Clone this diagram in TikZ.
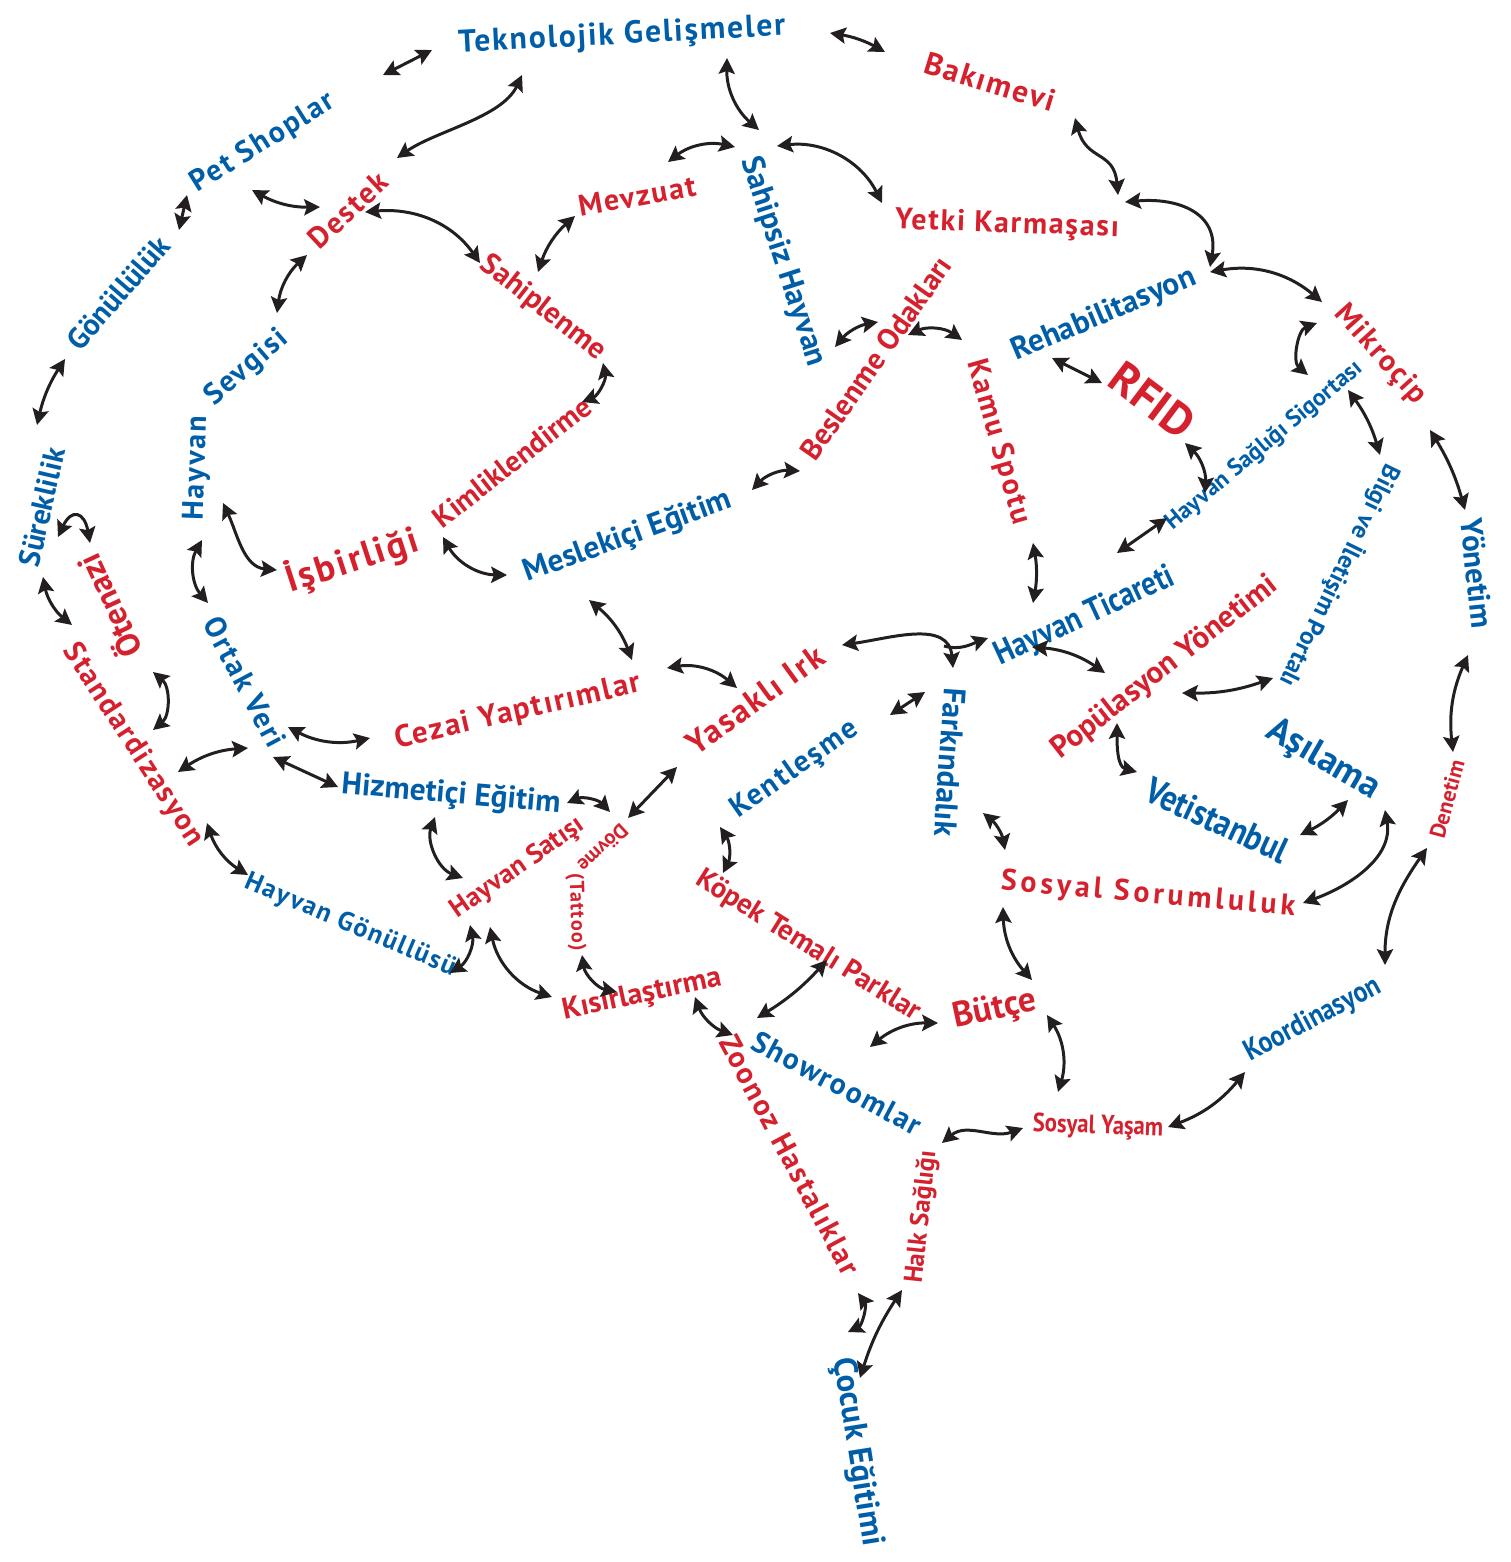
\documentclass[tikz,border=0pt]{standalone}
\usepackage{fontspec}
\setmainfont{PT Sans}
\newfontfamily\trackfont{PT Sans}[LetterSpace=6]
\newfontfamily\widefont{PT Sans}[LetterSpace=13]
\newfontfamily\condfont{PT Sans}[FakeStretch=0.86]
\usetikzlibrary{arrows.meta,calc}
\definecolor{tmblue}{HTML}{005EA8}
\definecolor{tmred}{HTML}{D5212D}
\definecolor{tmarrow}{HTML}{231F20}
\newcommand\sz[1]{\fontsize{#1}{#1}\selectfont}
\tikzstyle{word} = [inner sep=0pt, font=\bfseries\sz{8.5}]
\tikzstyle{blueword} = [word, text=tmblue]
\tikzstyle{redword} = [word, text=tmred]
\tikzstyle{link} = [draw=tmarrow, line width=0.85pt, <->]

\begin{document}
\begin{tikzpicture}[x=0.01cm, y=0.01cm, >={Stealth[length=4.5pt,width=4.6pt,inset=0.8pt]}]
    \useasboundingbox (0,0) rectangle (1511,-1562);
    % Place nodes
    \node [blueword, rotate=3] (tek) at (622,-36) {\trackfont\sz{9}Teknolojik Gelişmeler};
    \node [redword, rotate=-17] (bak) at (990,-82) {\trackfont\sz{8.9}Bakımevi};
    \node [blueword, rotate=32] (pet) at (263,-143) {\trackfont Pet Shoplar};
    \node [redword, rotate=43] (des) at (348,-210) {\trackfont Destek};
    \node [blueword, rotate=49] (gon) at (118,-293) {Gönüllülük};
    \node [blueword, rotate=77] (sur) at (42,-507) {Süreklilik};
    \node [redword, rotate=115] (ota) at (108,-607) {\sz{9.5}Ötenazi};
    \node [redword, rotate=-57] (std) at (133,-745) {\trackfont Standardizasyon};
    \node [blueword, rotate=88] (hay) at (197,-468) {\trackfont Hayvan};
    \node [blueword, rotate=41] (sev) at (247,-368) {\trackfont Sevgisi};
    \node [redword, rotate=-38] (sah) at (543,-308) {Sahiplenme};
    \node [redword, rotate=10] (mev) at (637,-196) {\trackfont Mevzuat};
    \node [blueword, rotate=-72] (shy) at (783,-262) {\sz{8.9}Sahipsiz Hayvan};
    \node [redword, rotate=-2] (yet) at (1007,-225) {\trackfont Yetki Karmaşası};
    \node [blueword, rotate=23] (reh) at (1104,-315) {\sz{8.9}Rehabilitasyon};
    \node [redword, rotate=-48] (mik) at (1380,-355) {\trackfont Mikroçip};
    \node [redword, rotate=-37] (rfid) at (1152,-400) {\sz{13}RFID};
    \node [redword, rotate=55] (bes) at (876,-358) {Beslenme Odakları};
    \node [redword, rotate=-74] (kam) at (998,-442) {\trackfont Kamu Spotu};
    \node [redword, rotate=38] (kim) at (512,-462) {\sz{8.3}Kimliklendirme};
    \node [redword, rotate=18] (isb) at (352,-560) {\trackfont\sz{10.5}İşbirliği};
    \node [blueword, rotate=20] (mes) at (628,-537) {\sz{8.9}Meslekiçi Eğitim};
    \node [blueword, rotate=-62] (ort) at (245,-682) {\trackfont Ortak Veri};
    \node [redword, rotate=13] (cez) at (518,-712) {\trackfont\sz{8.8}Cezai Yaptırımlar};
    \node [redword, rotate=36] (yas) at (755,-700) {\trackfont\sz{9.4}Yasaklı Irk};
    \node [blueword, rotate=25] (hti) at (1085,-617) {\condfont\sz{9.6}Hayvan Ticareti};
    \node [blueword, rotate=40] (hss) at (1264,-446) {\sz{6.8}Hayvan Sağlığı Sigortası};
    \node [blueword, rotate=-116] (bil) at (1340,-576) {\sz{7.1}Bilgi ve İletişim Portalı};
    \node [blueword, rotate=-84] (yon) at (1477,-573) {\sz{8.8}Yönetim};
    \node [redword, rotate=38] (pop) at (1165,-668) {\sz{8.8}Popülasyon Yönetimi};
    \node [blueword, rotate=-30] (asi) at (1323,-760) {\sz{10.5}Aşılama};
    \node [blueword, rotate=-25] (vet) at (1217,-820) {\condfont\sz{10.5}Vetistanbul};
    \node [redword, rotate=75] (den) at (1447,-799) {\sz{6.3}Denetim};
    \node [blueword, rotate=-94] (far) at (950,-762) {\sz{8.9}Farkındalık};
    \node [blueword, rotate=35] (ken) at (795,-770) {\trackfont Kentleşme};
    \node [blueword, rotate=-5] (hiz) at (451,-795) {\sz{8.9}Hizmetiçi Eğitim};
    \node [redword, rotate=35] (hsa) at (518,-868) {\sz{7.7}Hayvan Satışı};
    \node [redword, rotate=-137] (dov) at (603,-848) {\sz{5.8}Dövme};
    \node [redword, rotate=-88] (tat) at (576,-912) {\trackfont\sz{5.8}(Tattoo)};
    \node [redword, rotate=12] (kis) at (642,-995) {Kısırlaştırma};
    \node [redword, rotate=-32] (kop) at (808,-946) {\sz{8.2}Köpek Temalı Parklar};
    \node [redword, rotate=-5] (sos) at (1148,-895) {\widefont Sosyal Sorumluluk};
    \node [blueword, rotate=-23] (hgo) at (350,-925) {\trackfont\sz{7.5}Hayvan Gönüllüsü};
    \node [blueword, rotate=-28] (sho) at (837,-1083) {\trackfont Showroomlar};
    \node [redword, rotate=-62] (zoo) at (790,-1155) {\trackfont Zoonoz Hastalıklar};
    \node [redword, rotate=84] (hal) at (922,-1217) {\sz{7.4}Halk Sağlığı};
    \node [blueword, rotate=-81] (coc) at (857,-1452) {\sz{9.3}Çocuk Eğitimi};
    \node [redword, rotate=-2] (sya) at (1098,-1127) {\condfont\sz{7.5}Sosyal Yaşam};
    \node [blueword, rotate=28] (koo) at (1313,-1020) {\condfont Koordinasyon};
    \node [redword, rotate=12] (but) at (995,-1010) {\sz{10}Bütçe};
    \coordinate (jn) at ($(far)+(-6,116)$);
    % Draw edges
    \draw [link] ($(pet)+(120,68)$) -- ($(tek)+(-190,-14)$);
    \draw [link] ($(des)+(49,52)$) to[out=35,in=-115,looseness=0.8] ($(tek)+(-100,-39)$);
    \draw [link] ($(gon)+(61,63)$) -- ($(pet)+(-76,-52)$);
    \draw [link] ($(pet)+(-11,-47)$) to[bend right=15] ($(des)+(-28,3)$);
    \draw [link] ($(des)+(17,-2)$) to[out=5,in=125] ($(sah)+(-63,45)$);
    \draw [link] ($(sev)+(30,55)$) to[bend left=20] ($(des)+(-41,-45)$);
    \draw [link] ($(gon)+(-53,-66)$) to[bend right=10] ($(sur)+(-5,82)$);
    \draw [link] ($(tek)+(208,3)$) to[bend left=10] ($(bak)+(-105,30)$);
    \draw [link] ($(tek)+(105,-22)$) to[bend right=25] ($(shy)+(-24,132)$);
    \draw [link] ($(mev)+(31,34)$) to[bend left=25] ($(shy)+(-48,115)$);
    \draw [link] ($(shy)+(-6,116)$) to[bend left=35] ($(yet)+(-125,22)$);
    \draw [link] ($(mev)+(-62,-20)$) to[bend right=15] ($(sah)+(-5,36)$);
    \draw [link] ($(sah)+(60,-55)$) to[bend left=40] ($(kim)+(70,60)$);
    \draw [link] ($(shy)+(52,-85)$) to[bend left=20] ($(bes)+(2,36)$);
    \draw [link] ($(bes)+(32,23)$) to[bend left=30] ($(kam)+(-36,102)$);
    \draw [link] ($(bak)+(85,-36)$) to[out=-75,in=95,looseness=1.3] ($(yet)+(111,30)$);
    \draw [link] ($(yet)+(118,23)$) to[out=5,in=80,looseness=1.3] ($(reh)+(106,48)$);
    \draw [link] ($(reh)+(106,43)$) to[bend left=25] ($(mik)+(-58,53)$);
    \draw [link] ($(reh)+(-52,-43)$) -- ($(rfid)+(-50,17)$);
    \draw [link] ($(mik)+(-63,32)$) to[bend right=60] ($(hss)+(44,71)$);
    \draw [link] ($(sur)+(16,-30)$) to[out=65,in=100,looseness=2.5] ($(ota)+(-18,64)$);
    \draw [link] ($(sur)+(1,-70)$) to[bend right=20] ($(std)+(-61,120)$);
    \draw [link] ($(hay)+(26,-35)$) to[out=-65,in=175] ($(isb)+(-75,-10)$);
    \draw [link] ($(hay)+(5,-72)$) to[bend right=35] ($(ort)+(-37,79)$);
    \draw [link] ($(ota)+(45,-65)$) to[bend left=50] ($(std)+(20,15)$);
    \draw [link] ($(ort)+(43,-45)$) to[bend right=20] ($(cez)+(-148,-26)$);
    \draw [link] ($(std)+(45,-27)$) to[bend left=15] ($(ort)+(3,-66)$);
    \draw [link] ($(ort)+(28,-75)$) -- ($(hiz)+(-113,8)$);
    \draw [link] ($(kim)+(-69,-75)$) to[bend right=30] ($(mes)+(-121,-38)$);
    \draw [link] ($(mes)+(124,47)$) to[bend left=25] ($(bes)+(-76,-113)$);
    \draw [link] ($(mes)+(-39,-63)$) to[bend left=15] ($(cez)+(114,52)$);
    \draw [link] ($(cez)+(149,44)$) to[bend left=25] ($(yas)+(-18,12)$);
    \draw [link] ($(yas)+(87,55)$) to[out=8,in=95,looseness=1.1] ($(far)+(3,94)$);
    \draw [link, ->] (jn) to[out=-15,in=200] ($(hti)+(-97,-21)$);
    \draw [link] ($(ken)+(95,55)$) -- ($(far)+(-25,70)$);
    \draw [link] ($(yas)+(-78,-67)$) -- ($(dov)+(25,30)$);
    \draw [link] ($(rfid)+(33,-43)$) to[bend left=25] ($(hss)+(-59,-47)$);
    \draw [link] ($(kam)+(35,-101)$) to[bend left=10] ($(hti)+(-52,14)$);
    \draw [link] ($(hti)+(32,64)$) -- ($(hss)+(-97,-72)$);
    \draw [link] ($(hss)+(84,56)$) to[bend left=10] ($(bil)+(40,121)$);
    \draw [link] ($(mik)+(50,-75)$) to[bend left=8] ($(yon)+(-12,63)$);
    \draw [link] ($(hti)+(-53,-30)$) to[bend left=15] ($(pop)+(-60,-5)$);
    \draw [link] ($(pop)+(17,-25)$) to[bend right=10] ($(bil)+(-67,-102)$);
    \draw [link] ($(pop)+(-48,-55)$) to[out=-90,in=165] ($(vet)+(-80,48)$);
    \draw [link] ($(yon)+(-9,-82)$) to[bend right=15] ($(den)+(6,47)$);
    \draw [link] ($(std)+(74,-78)$) to[bend right=20] ($(hgo)+(-102,50)$);
    \draw [link] ($(hiz)+(-16,-22)$) to[out=-110,in=160] ($(hsa)+(-55,-10)$);
    \draw [link] ($(hgo)+(100,-48)$) to[bend right=35] ($(hsa)+(-48,-57)$);
    \draw [link] ($(hsa)+(-28,-59)$) to[bend right=30] ($(kis)+(-90,-2)$);
    \draw [link] ($(hiz)+(116,-8)$) to[bend left=35] ($(dov)+(7,36)$);
    \draw [link] ($(ken)+(-75,-57)$) to[bend left=30] ($(kop)+(-85,73)$);
    \draw [link] ($(tat)+(6,-43)$) to[bend right=35] ($(kis)+(-25,3)$);
    \draw [link] ($(kis)+(53,-2)$) to[bend right=25] ($(zoo)+(-57,120)$);
    \draw [link] ($(sho)+(-80,65)$) to[bend right=8] ($(kop)+(19,-14)$);
    \draw [link] ($(sho)+(33,36)$) to[bend left=20] ($(but)+(-57,-13)$);
    \draw [link] ($(hal)+(20,74)$) to[out=40,in=200] ($(sya)+(-75,-1)$);
    \draw [link] ($(far)+(33,-51)$) to[bend left=20] ($(sos)+(-143,45)$);
    \draw [link] ($(sos)+(-145,-12)$) to[bend right=20] ($(but)+(37,30)$);
    \draw [link] ($(vet)+(83,-15)$) to[bend right=10] ($(asi)+(25,-40)$);
    \draw [link] ($(asi)+(62,-50)$) to[out=-80,in=20] ($(sos)+(155,-8)$);
    \draw [link] ($(den)+(-20,-49)$) to[out=-125,in=90] ($(koo)+(72,55)$);
    \draw [link] ($(but)+(52,-5)$) to[bend left=25] ($(sya)+(-40,35)$);
    \draw [link] ($(sya)+(70,0)$) to[bend right=15] ($(koo)+(-68,-52)$);
    \draw [link] ($(zoo)+(68,-138)$) to[bend left=50] ($(coc)+(-9,120)$);
    \draw [link] ($(hal)+(-20,-73)$) to[bend right=8] ($(coc)+(3,74)$);
\end{tikzpicture}
\end{document}
